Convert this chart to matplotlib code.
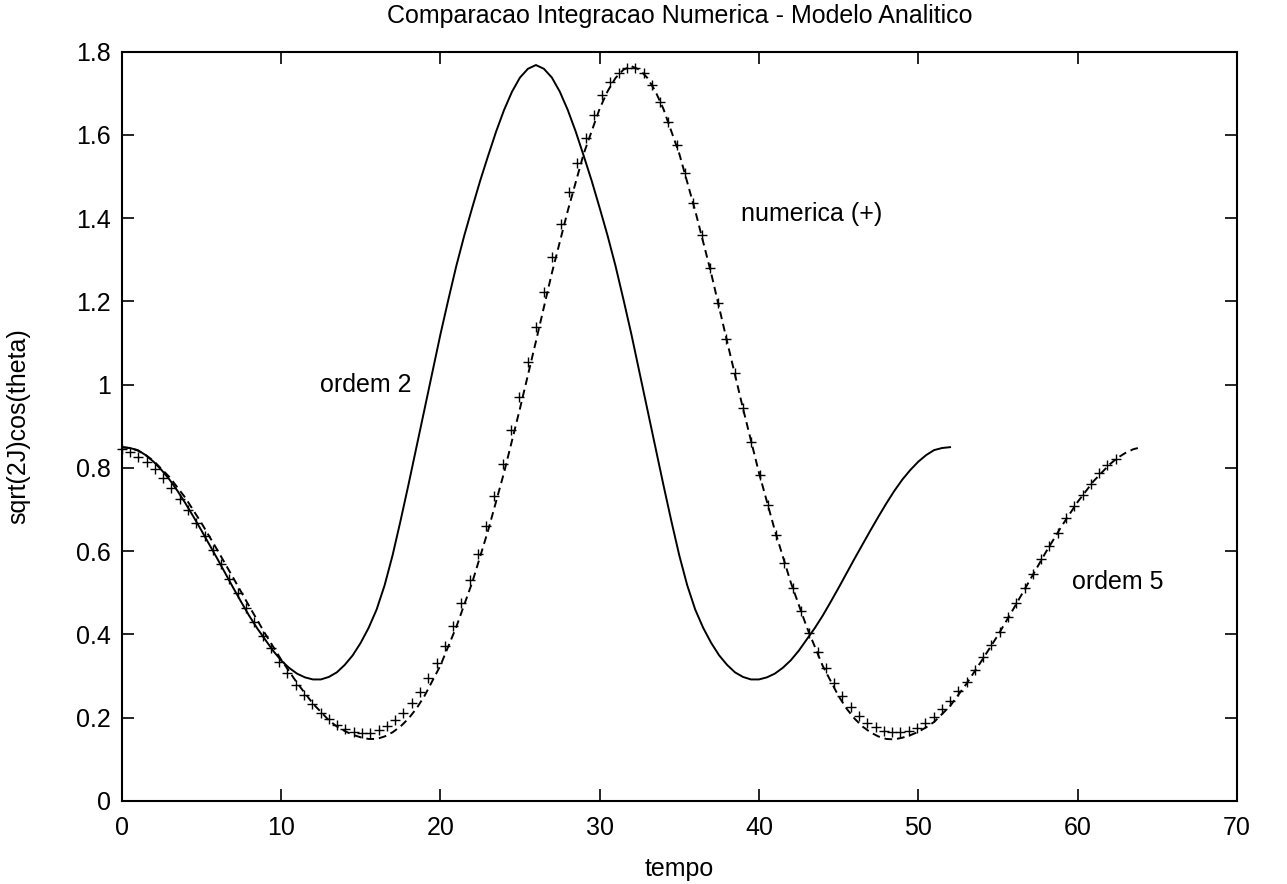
import numpy as np
import matplotlib
matplotlib.use('Agg')
import matplotlib.pyplot as plt
from matplotlib.ticker import FuncFormatter

plt.rcParams['font.family'] = ['Liberation Sans', 'DejaVu Sans']

# Analytic model, second order
t_ord2 = [0, 0.5, 1, 1.5, 2, 2.5, 3, 3.5, 4, 4.5, 5, 5.5, 6, 6.5, 7, 7.5, 8, 8.5,
          9, 9.5, 10, 10.5, 11, 11.5, 12, 12.5, 13, 13.5, 14, 14.5, 15, 15.5, 16,
          16.5, 17, 17.5, 18, 18.5, 19, 19.5, 20, 20.5, 21, 21.5, 22, 22.5, 23,
          23.5, 24, 24.5, 25, 25.5, 26, 26.5, 27, 27.5, 28, 28.5, 29, 29.5, 30,
          30.5, 31, 31.5, 32, 32.5, 33, 33.5, 34, 34.5, 35, 35.5, 36, 36.5, 37,
          37.5, 38, 38.5, 39, 39.5, 40, 40.5, 41, 41.5, 42, 42.5, 43, 43.5, 44,
          44.5, 45, 45.5, 46, 46.5, 47, 47.5, 48, 48.5, 49, 49.5, 50, 50.5, 51,
          51.5, 52]
y_ord2 = [0.850, 0.848, 0.843, 0.831, 0.815, 0.795, 0.772, 0.745, 0.715, 0.683,
          0.650, 0.616, 0.582, 0.547, 0.512, 0.478, 0.445, 0.415, 0.388, 0.361,
          0.338, 0.320, 0.306, 0.297, 0.292, 0.292, 0.298, 0.309, 0.327, 0.350,
          0.380, 0.416, 0.460, 0.518, 0.590, 0.673, 0.760, 0.850, 0.940, 1.030,
          1.120, 1.204, 1.285, 1.358, 1.425, 1.490, 1.550, 1.608, 1.660, 1.704,
          1.738, 1.759, 1.768, 1.759, 1.738, 1.704, 1.660, 1.608, 1.550, 1.490,
          1.425, 1.358, 1.285, 1.204, 1.120, 1.030, 0.940, 0.850, 0.760, 0.673,
          0.590, 0.518, 0.460, 0.416, 0.380, 0.350, 0.327, 0.309, 0.298, 0.292,
          0.292, 0.297, 0.306, 0.320, 0.338, 0.361, 0.388, 0.415, 0.445, 0.478,
          0.512, 0.547, 0.582, 0.616, 0.650, 0.683, 0.715, 0.745, 0.772, 0.795,
          0.815, 0.831, 0.843, 0.848, 0.850]

# Analytic model, fifth order
t_ord5 = [0, 0.5, 1, 1.5, 2, 3, 4, 5, 6, 7, 8, 9, 10, 11, 12, 13, 13.5, 14, 14.5,
          15, 15.5, 16, 16.5, 17, 17.5, 18, 18.5, 19, 20, 21, 22, 23, 24, 25, 26,
          27, 28, 29, 30, 30.5, 31, 31.5, 32, 32.5, 33, 33.5, 34, 35, 36, 37, 38,
          39, 40, 41, 42, 43, 44, 45, 45.5, 46, 46.5, 47, 47.5, 48, 48.5, 49,
          49.5, 50, 50.5, 51, 52, 53, 54, 55, 56, 57, 58, 59, 60, 61, 62, 62.5,
          63, 63.5, 64]
y_ord5 = [0.850, 0.848, 0.842, 0.831, 0.817, 0.778, 0.728, 0.668, 0.603, 0.536,
          0.468, 0.402, 0.340, 0.284, 0.234, 0.194, 0.179, 0.168, 0.159, 0.153,
          0.149, 0.149, 0.155, 0.165, 0.179, 0.198, 0.222, 0.252, 0.325, 0.418,
          0.525, 0.650, 0.789, 0.943, 1.104, 1.268, 1.418, 1.555, 1.663, 1.705,
          1.737, 1.757, 1.765, 1.757, 1.737, 1.705, 1.663, 1.555, 1.418, 1.268,
          1.104, 0.943, 0.789, 0.650, 0.525, 0.418, 0.325, 0.252, 0.222, 0.198,
          0.179, 0.165, 0.155, 0.149, 0.148, 0.152, 0.158, 0.166, 0.177, 0.190,
          0.228, 0.280, 0.338, 0.398, 0.463, 0.530, 0.597, 0.660, 0.718, 0.768,
          0.808, 0.824, 0.836, 0.845, 0.850]

# Numerical integration, fixed step
dt_num = 0.52
y_num = [0.846, 0.839, 0.827, 0.814, 0.797, 0.777, 0.751, 0.725, 0.699, 0.669,
         0.637, 0.603, 0.569, 0.533, 0.499, 0.463, 0.429, 0.396, 0.367, 0.335,
         0.307, 0.279, 0.255, 0.233, 0.212, 0.196, 0.183, 0.173, 0.166, 0.164,
         0.164, 0.171, 0.180, 0.195, 0.211, 0.235, 0.263, 0.295, 0.332, 0.372,
         0.421, 0.475, 0.531, 0.593, 0.661, 0.733, 0.810, 0.891, 0.971, 1.055,
         1.139, 1.223, 1.306, 1.386, 1.464, 1.532, 1.592, 1.648, 1.696, 1.728,
         1.750, 1.760, 1.762, 1.748, 1.720, 1.680, 1.632, 1.576, 1.508, 1.436,
         1.360, 1.280, 1.196, 1.111, 1.027, 0.943, 0.863, 0.783, 0.710, 0.640,
         0.572, 0.511, 0.457, 0.403, 0.359, 0.319, 0.283, 0.252, 0.227, 0.204,
         0.188, 0.177, 0.169, 0.165, 0.165, 0.169, 0.175, 0.187, 0.201, 0.220,
         0.241, 0.265, 0.287, 0.315, 0.345, 0.375, 0.407, 0.441, 0.476, 0.511,
         0.545, 0.581, 0.613, 0.645, 0.679, 0.709, 0.735, 0.761, 0.789, 0.807,
         0.821]
t_num = dt_num * np.arange(len(y_num))

fig = plt.figure(figsize=(12.87, 8.84), dpi=100)
ax = fig.add_axes([0.0946, 0.0939, 0.8664, 0.8476])

ax.plot(t_ord2, y_ord2, color='black', lw=1.4)
ax.plot(t_ord5, y_ord5, color='black', lw=1.4, linestyle=(0, (4, 2.5)))
ax.plot(t_num, y_num, linestyle='None', marker='+', color='black',
        markersize=7, markeredgewidth=1.0, clip_on=False)

ax.set_xlim(0, 70)
ax.set_ylim(0, 1.8)
ax.set_xticks(np.arange(0, 71, 10))
ax.set_yticks(np.arange(0, 1.81, 0.2))
ax.yaxis.set_major_formatter(FuncFormatter(lambda v, p: f'{v:g}'))

# gnuplot-like frame: inward ticks on all sides
ax.tick_params(direction='in', length=8.5, width=1.2, top=True, right=True,
               labelsize=18)
ax.tick_params(axis='y', pad=8)
ax.tick_params(axis='x', pad=11)
for s in ax.spines.values():
    s.set_linewidth(1.5)

ax.set_xlabel('tempo', fontsize=18, labelpad=12)
ax.set_ylabel('sqrt(2J)cos(theta)', fontsize=18, labelpad=33)
ax.set_title('Comparacao Integracao Numerica - Modelo Analitico', fontsize=18, pad=21)

ax.text(12.45, 1.0, 'ordem 2', fontsize=18, va='center', ha='left')
ax.text(38.9, 1.41, 'numerica (+)', fontsize=18, va='center', ha='left')
ax.text(59.65, 0.526, 'ordem 5', fontsize=18, va='center', ha='left')

fig.savefig('out.png', dpi=100)
